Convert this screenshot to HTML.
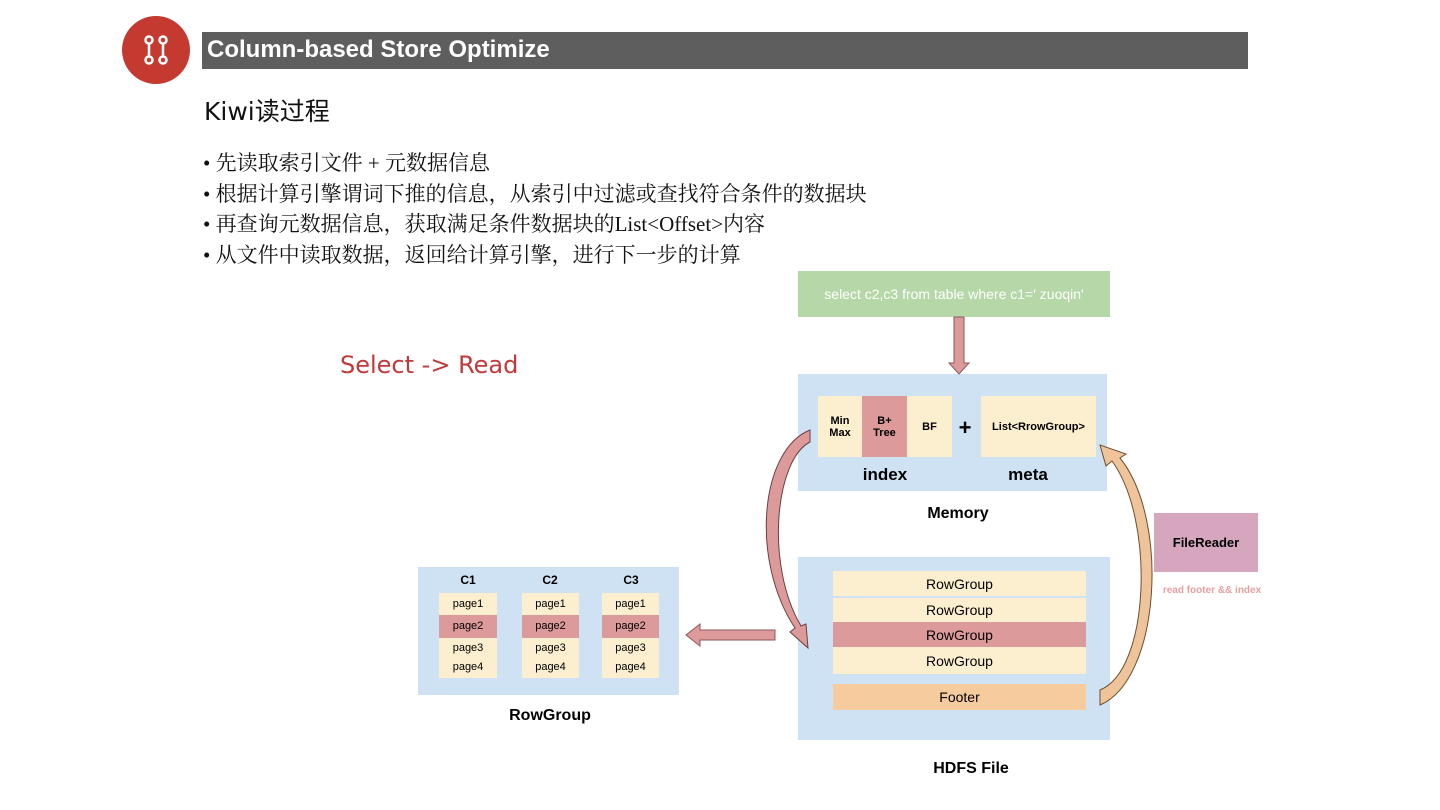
<!DOCTYPE html>
<html><head><meta charset="utf-8"><style>
body{margin:0;width:1440px;height:810px;background:#fff;position:relative;overflow:hidden;font-family:"Liberation Sans","Noto Sans CJK SC",sans-serif}
.a{position:absolute}
.c{position:absolute;display:flex;align-items:center;justify-content:center;text-align:center}
.b{font-weight:bold}
.bul{position:absolute;left:203px;font-family:"Liberation Serif","Noto Serif CJK SC",serif;font-size:21px;color:#111;white-space:nowrap;line-height:24px}
</style></head><body>
<div class="a" style="left:122px;top:16px;width:68px;height:68px;border-radius:50%;background:#c43a31"></div>
<svg class="a" style="left:122px;top:16px" width="68" height="68"><g stroke="#fff" stroke-width="2.5" fill="none"><circle cx="27" cy="24" r="3.5"/><circle cx="27" cy="44" r="3.5"/><circle cx="41" cy="24" r="3.5"/><circle cx="41" cy="44" r="3.5"/><line x1="27" y1="28" x2="27" y2="40"/><line x1="41" y1="28" x2="41" y2="40"/></g></svg>
<div class="a" style="left:202px;top:32px;width:1046px;height:37px;background:#5e5e5e"></div>
<div class="a b" style="left:207px;top:36px;font-size:24px;color:#fff">Column-based Store Optimize</div>
<div class="a" style="left:204px;top:92px;font-size:25px;color:#111;font-family:'DejaVu Sans','Noto Sans CJK SC',sans-serif">Kiwi读过程</div>
<div class="bul" style="top:151px">• 先读取索引文件 + 元数据信息</div>
<div class="bul" style="top:182px">• 根据计算引擎谓词下推的信息，从索引中过滤或查找符合条件的数据块</div>
<div class="bul" style="top:212px">• 再查询元数据信息，获取满足条件数据块的List&lt;Offset&gt;内容</div>
<div class="bul" style="top:243px">• 从文件中读取数据，返回给计算引擎，进行下一步的计算</div>
<div class="a" style="left:340px;top:351px;font-size:24px;color:#c0393b;font-family:'DejaVu Sans',sans-serif">Select -&gt; Read</div>

<div class="c" style="left:798px;top:271px;width:312px;height:46px;background:#b6d7a8;color:#fff;font-size:14px">select c2,c3 from table where c1=' zuoqin'</div>

<div class="a" style="left:798px;top:374px;width:309px;height:117px;background:#cfe2f3"></div>
<div class="c b" style="left:818px;top:396px;width:44px;height:61px;background:#fcefcf;font-size:11px">Min<br>Max</div>
<div class="c b" style="left:862px;top:396px;width:45px;height:61px;background:#dd9a9a;font-size:11px">B+<br>Tree</div>
<div class="c b" style="left:907px;top:396px;width:45px;height:61px;background:#fcefcf;font-size:11px">BF</div>
<div class="c b" style="left:955px;top:414px;width:20px;height:28px;font-size:22px">+</div>
<div class="c b" style="left:981px;top:396px;width:115px;height:61px;background:#fcefcf;font-size:11px">List&lt;RrowGroup&gt;</div>
<div class="c b" style="left:840px;top:463px;width:90px;height:24px;font-size:17px">index</div>
<div class="c b" style="left:983px;top:463px;width:90px;height:24px;font-size:17px">meta</div>
<div class="c b" style="left:908px;top:503px;width:100px;height:22px;font-size:16px">Memory</div>

<div class="a" style="left:798px;top:557px;width:312px;height:183px;background:#cfe2f3"></div>
<div class="c" style="left:833px;top:571px;width:253px;height:25px;background:#fcefcf;font-size:14px">RowGroup</div>
<div class="c" style="left:833px;top:598px;width:253px;height:24px;background:#fcefcf;font-size:14px">RowGroup</div>
<div class="c" style="left:833px;top:622px;width:253px;height:25px;background:#dd9a9a;font-size:14px">RowGroup</div>
<div class="c" style="left:833px;top:647px;width:253px;height:27px;background:#fcefcf;font-size:14px">RowGroup</div>
<div class="c" style="left:833px;top:684px;width:253px;height:26px;background:#f6cc9f;font-size:14px">Footer</div>
<div class="c b" style="left:911px;top:758px;width:120px;height:22px;font-size:16px">HDFS File</div>

<div class="c b" style="left:1154px;top:513px;width:104px;height:59px;background:#d5a6bd;font-size:13px">FileReader</div>
<div class="c b" style="left:1150px;top:582px;width:124px;height:16px;font-size:10px;color:#e6a0a0">read footer &amp;&amp; index</div>

<div class="a" style="left:418px;top:567px;width:261px;height:128px;background:#cfe2f3"></div>
<div class="c b" style="left:448px;top:571px;width:40px;height:18px;font-size:12px">C1</div>
<div class="c b" style="left:530px;top:571px;width:40px;height:18px;font-size:12px">C2</div>
<div class="c b" style="left:611px;top:571px;width:40px;height:18px;font-size:12px">C3</div>
<div class="a" style="left:439px;top:593px;width:58px;height:85px;background:#fcefcf"></div>
<div class="a" style="left:522px;top:593px;width:57px;height:85px;background:#fcefcf"></div>
<div class="a" style="left:602px;top:593px;width:57px;height:85px;background:#fcefcf"></div>
<div class="a" style="left:439px;top:615px;width:58px;height:23px;background:#dd9a9a"></div>
<div class="a" style="left:522px;top:615px;width:57px;height:23px;background:#dd9a9a"></div>
<div class="a" style="left:602px;top:615px;width:57px;height:23px;background:#dd9a9a"></div>
<div class="c" style="left:439px;top:594px;width:58px;height:20px;font-size:11px">page1</div>
<div class="c" style="left:522px;top:594px;width:57px;height:20px;font-size:11px">page1</div>
<div class="c" style="left:602px;top:594px;width:57px;height:20px;font-size:11px">page1</div>
<div class="c" style="left:439px;top:616px;width:58px;height:20px;font-size:11px">page2</div>
<div class="c" style="left:522px;top:616px;width:57px;height:20px;font-size:11px">page2</div>
<div class="c" style="left:602px;top:616px;width:57px;height:20px;font-size:11px">page2</div>
<div class="c" style="left:439px;top:638px;width:58px;height:20px;font-size:11px">page3</div>
<div class="c" style="left:522px;top:638px;width:57px;height:20px;font-size:11px">page3</div>
<div class="c" style="left:602px;top:638px;width:57px;height:20px;font-size:11px">page3</div>
<div class="c" style="left:439px;top:657px;width:58px;height:20px;font-size:11px">page4</div>
<div class="c" style="left:522px;top:657px;width:57px;height:20px;font-size:11px">page4</div>
<div class="c" style="left:602px;top:657px;width:57px;height:20px;font-size:11px">page4</div>
<div class="c b" style="left:490px;top:705px;width:120px;height:22px;font-size:16px">RowGroup</div>

<svg class="a" style="left:0;top:0" width="1440" height="810">
<polygon points="954,317 964,317 964,363 969,363 959,374 949,363 954,363" fill="#dd9a9a" stroke="#8a5a5a" stroke-width="1"/>
<polygon points="775,630 700,630 700,624 686,635 700,646 700,640 775,640" fill="#dd9a9a" stroke="#8a5a5a" stroke-width="1"/>
<path d="M810,430 C760,450 750,560 795,628 L790,632 L808,648 L806,624 L801,626 C765,565 775,460 810,442 Z" fill="#dd9a9a" stroke="#6a4040" stroke-width="1"/>
<path d="M1100,705 C1160,680 1170,520 1120,458 L1126,454 L1100,445 L1106,466 L1112,461 C1155,520 1150,670 1100,690 Z" fill="#f0c49a" stroke="#6a5030" stroke-width="1"/>
</svg>
</body></html>
